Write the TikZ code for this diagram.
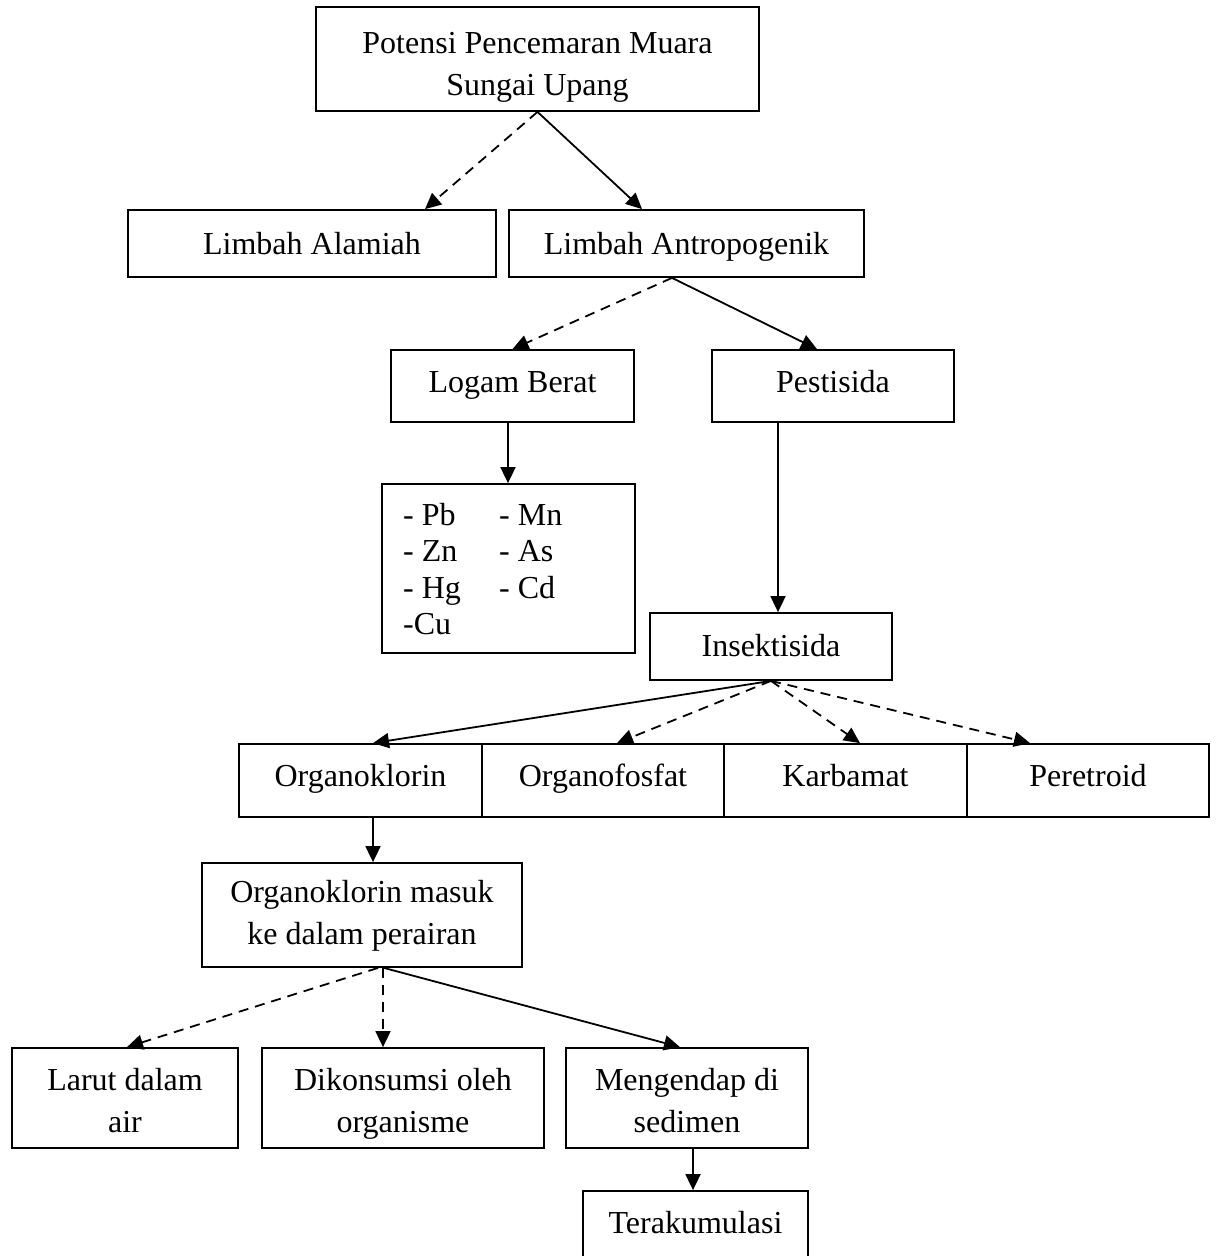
\documentclass[tikz,border=0pt]{standalone}
\usepackage{fontspec}
\setmainfont{Liberation Serif}
\usetikzlibrary{arrows.meta}
\newcommand\tstrut[1]{\rule[-#1]{0pt}{42pt}}
\begin{document}
\begin{tikzpicture}[x=1pt,y=-1pt,
  box/.style={draw=black, line width=1.8pt, rectangle, inner sep=0pt, align=center,
    font=\fontsize{32}{42}\selectfont},
  onebox/.style={box, text depth=8pt, text height=#1},
  arr/.style={line width=1.8pt, -{Triangle[length=16pt,width=15pt]}},
  dsh/.style={arr, dash pattern=on 10pt off 7pt}]
\useasboundingbox (0,0) rectangle (1218,1256);
\fill[white] (0,0) rectangle (1218,1256);
\clip (0,0) rectangle (1218,1256);

\node[box, minimum width=443pt, minimum height=104pt] (top) at (537.5,59) {\tstrut{4pt}Potensi Pencemaran Muara\\\tstrut{4pt}Sungai Upang};
\node[onebox=30pt, minimum width=368pt, minimum height=67pt] (alamiah) at (312,243.5) {Limbah Alamiah};
\node[onebox=30pt, minimum width=355pt, minimum height=67pt] (antro) at (686.5,243.5) {Limbah Antropogenik};
\node[onebox=20pt, minimum width=243pt, minimum height=72pt] (logam) at (512.5,386) {Logam Berat};
\node[onebox=20pt, minimum width=242pt, minimum height=72pt] (pest) at (833,386) {Pestisida};
\node[box, minimum width=253pt, minimum height=169pt] (metals) at (508.5,568.5) {};
\node[anchor=north west, inner sep=0pt, align=left, font=\fontsize{32}{36.5}\selectfont] (metaltext) at (403,503)
  {\makebox[96pt][l]{- Pb}- Mn\\\makebox[96pt][l]{- Zn}- As\\\makebox[96pt][l]{- Hg}- Cd\\-Cu};
\node[onebox=28pt, minimum width=242pt, minimum height=67pt] (ins) at (771,646.5) {Insektisida};
\node[onebox=20pt, minimum width=243pt, minimum height=73pt] (oklor) at (360.5,780.5) {Organoklorin};
\node[onebox=20pt, minimum width=242pt, minimum height=73pt] (ofos) at (603,780.5) {Organofosfat};
\node[onebox=20pt, minimum width=243pt, minimum height=73pt] (karb) at (845.5,780.5) {Karbamat};
\node[onebox=20pt, minimum width=242pt, minimum height=73pt] (peret) at (1088,780.5) {Peretroid};
\node[box, minimum width=320pt, minimum height=104pt] (masuk) at (362,915) {\tstrut{12.6pt}Organoklorin masuk\\\tstrut{12.6pt}ke dalam perairan};
\node[box, minimum width=226pt, minimum height=100pt] (larut) at (125,1098) {\tstrut{8pt}Larut dalam\\\tstrut{8pt}air};
\node[box, minimum width=282pt, minimum height=100pt] (konsumsi) at (403,1098) {\tstrut{8pt}Dikonsumsi oleh\\\tstrut{8pt}organisme};
\node[box, minimum width=242pt, minimum height=100pt] (endap) at (687,1098) {\tstrut{8pt}Mengendap di\\\tstrut{8pt}sedimen};
\node[onebox=24pt, minimum width=225pt, minimum height=69pt] (akum) at (695.5,1225.5) {Terakumulasi};

\draw[dsh] (top.south) -- ([xshift=113pt]alamiah.north);
\draw[arr] (top.south) -- ([xshift=-44.5pt]antro.north);
\draw[dsh] ([xshift=-14.5pt]antro.south) -- (logam.north);
\draw[arr] ([xshift=-14.5pt]antro.south) -- ([xshift=-16pt]pest.north);
\draw[arr] ([xshift=-4.5pt]logam.south) -- ([xshift=-0.5pt]metals.north);
\draw[arr] ([xshift=-55pt]pest.south) -- ([xshift=7pt]ins.north);
\draw[arr] (ins.south) -- ([xshift=12.5pt]oklor.north);
\draw[dsh] (ins.south) -- ([xshift=14pt]ofos.north);
\draw[dsh] (ins.south) -- ([xshift=14.5pt]karb.north);
\draw[dsh] (ins.south) -- ([xshift=-58pt]peret.north);
\draw[arr] ([xshift=12.5pt]oklor.south) -- ([xshift=11pt]masuk.north);
\draw[dsh] ([xshift=16pt]masuk.south) -- ([xshift=2pt]larut.north);
\draw[dsh] ([xshift=21pt]masuk.south) -- ([xshift=-20pt]konsumsi.north);
\draw[arr] ([xshift=22pt]masuk.south) -- ([xshift=-7pt]endap.north);
\draw[arr] ([xshift=6pt]endap.south) -- ([xshift=-2.5pt]akum.north);
\end{tikzpicture}
\end{document}
